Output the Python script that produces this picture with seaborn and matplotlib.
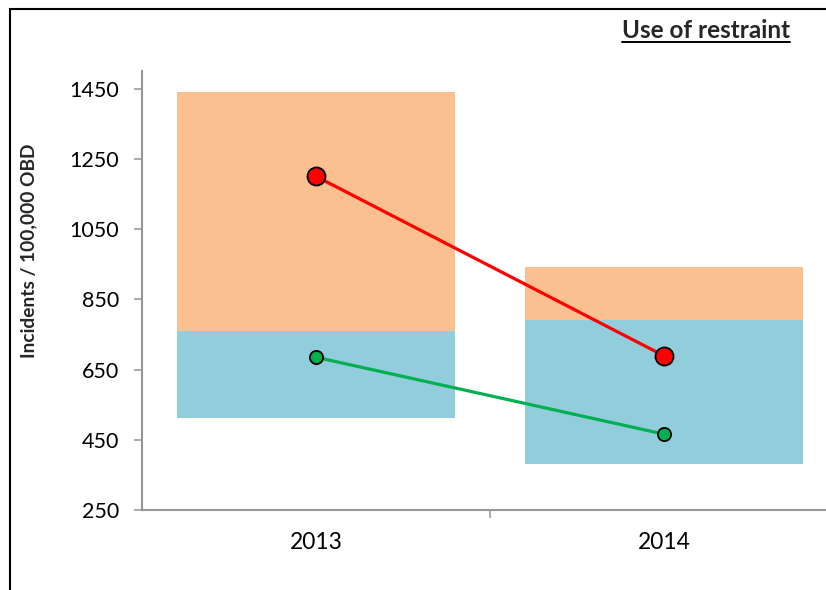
import matplotlib
matplotlib.use("Agg")
import matplotlib.pyplot as plt
from matplotlib.patches import Rectangle
from matplotlib.lines import Line2D
import pandas as pd
import seaborn as sns

# Data
years = ["2013", "2014"]
band_low = [512, 382]        # bottom of the lower (blue) band
band_mid = [760, 792]        # split between blue and orange bands
band_high = [1440, 942]      # top of the upper (orange) band
upper_series = [1200, 689]   # red line
lower_series = [685, 466]    # green line
y_ticks = [250, 450, 650, 850, 1050, 1250, 1450]

sns.set_theme(style="white")
plt.rcParams["font.family"] = ["Lato", "DejaVu Sans"]

df = pd.DataFrame({
    "year": years,
    "low": band_low,
    "mid": band_mid,
    "high": band_high,
    "upper": upper_series,
    "lower": lower_series,
})
df["blue_h"] = df["mid"] - df["low"]
df["orange_h"] = df["high"] - df["mid"]

W, H = 826, 590
fig = plt.figure(figsize=(W / 100, H / 100), dpi=100)
fig.patch.set_facecolor("white")

ax_left, ax_right, ax_top, ax_bottom = 142, 838, 71, 510
ax = fig.add_axes([ax_left / W, (H - ax_bottom) / H,
                   (ax_right - ax_left) / W, (ax_bottom - ax_top) / H])
ax.set_facecolor("white")

sns.barplot(data=df, x="year", y="blue_h", bottom=df["low"], color="#92CDDC",
            saturation=1, width=0.8, ax=ax, edgecolor="none", zorder=1)
sns.barplot(data=df, x="year", y="orange_h", bottom=df["mid"], color="#FAC090",
            saturation=1, width=0.8, ax=ax, edgecolor="none", zorder=1)

sns.pointplot(data=df, x="year", y="upper", color="#FF0000", errorbar=None,
              markers="o", linewidth=2.3, markersize=13, markeredgecolor="black",
              markeredgewidth=1.3, ax=ax, zorder=3)
sns.pointplot(data=df, x="year", y="lower", color="#00B050", errorbar=None,
              markers="o", linewidth=2.3, markersize=9.5, markeredgecolor="black",
              markeredgewidth=1.3, ax=ax, zorder=3)

ax.set_xlim(-0.5, 1.5)
ax.set_ylim(250, 1500)
ax.set_yticks(y_ticks)
ax.set_yticklabels([str(v) for v in y_ticks])
ax.set_xticks([0, 1])
ax.set_xticklabels(years)
ax.set_xticks([0.5], minor=True)
ax.set_xlabel("")
ax.set_ylabel("")

spine_color = "#969696"
for side in ("top", "right"):
    ax.spines[side].set_visible(False)
for side in ("left", "bottom"):
    ax.spines[side].set_color(spine_color)
    ax.spines[side].set_linewidth(1.5)

ax.tick_params(axis="y", which="major", direction="out", length=5.8, width=1.1,
               color=spine_color, left=True, pad=10.5, labelsize=15.5,
               labelcolor="black")
ax.tick_params(axis="x", which="major", length=0, pad=16, labelsize=16.4,
               labelcolor="black")
ax.tick_params(axis="x", which="minor", direction="out", length=5.8, width=1.1,
               color=spine_color, bottom=True)

# Axis title
fig.text(28.5 / W, 1 - 251 / H, "Incidents / 100,000 OBD", rotation=90,
         ha="center", va="center", fontsize=13.8, fontweight="bold")

# Chart title with underline
title = fig.text(790 / W, 1 - 30 / H, "Use of restraint", ha="right",
                 va="center", fontsize=17.5, fontweight="bold")

# Outer frame of the chart area
fig.patches.append(Rectangle((9.5 / W, -0.1), 1.2, 1.1 - 8.5 / H,
                             transform=fig.transFigure, fill=False,
                             edgecolor="black", linewidth=1.5, zorder=10))

fig.canvas.draw()
bb = title.get_window_extent(renderer=fig.canvas.get_renderer())
uy = bb.y0 - 0.5
fig.lines.append(Line2D([bb.x0 / W, bb.x1 / W], [uy / H, uy / H],
                        transform=fig.transFigure, color="black", linewidth=1.4))

fig.savefig("out.png", dpi=100)
